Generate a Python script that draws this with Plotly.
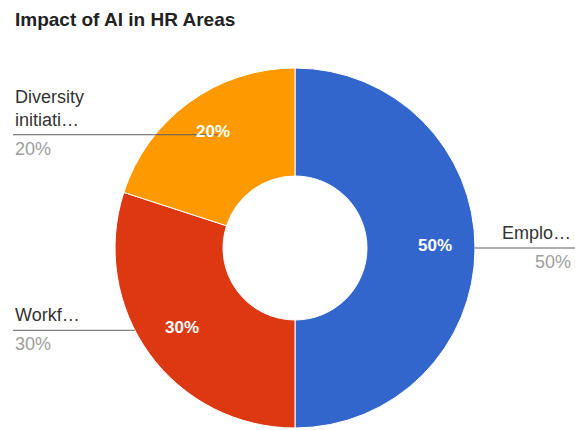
import math
import plotly.graph_objects as go

# Chart data
title = "Impact of AI in HR Areas"
labels = ["Emplo…", "Workf…", "Diversity<br>initiati…"]
values = [50, 30, 20]
colors = ["#3366cc", "#dc3912", "#ff9900"]

# Canvas geometry (pixels)
W, H = 575, 430
cx, cy = 295, 248          # donut centre
R = 180                    # outer radius
hole = 0.4                 # inner radius / outer radius
label_r = 140              # radius of the in-slice percentage labels
left_x = 13                # left edge of the left-hand labels
right_x = 573              # right edge of the right-hand labels


def px(x):
    return x / W


def py(y):
    return 1 - y / H


fig = go.Figure(
    go.Pie(
        labels=labels,
        values=values,
        hole=hole,
        sort=False,
        direction="clockwise",
        rotation=0,
        marker=dict(colors=colors, line=dict(color="white", width=1)),
        textinfo="none",
        showlegend=False,
        hoverinfo="label+value+percent",
        domain=dict(
            x=[px(cx - R), px(cx + R)],
            y=[py(cy + R), py(cy - R)],
        ),
    )
)

# Percentage labels inside slices, plus outside labels with leader lines,
# all placed at each slice's mid-angle
total = sum(values)
cum = 0
shapes = []
annotations = []
for lab, v in zip(labels, values):
    theta = 2 * math.pi * (cum + v / 2) / total
    cum += v
    lx = cx + label_r * math.sin(theta)
    ly = cy - label_r * math.cos(theta)
    pct = f"{round(100 * v / total)}%"
    edge = math.sqrt(max(R * R - (ly - cy) ** 2, 0))
    n_lines = lab.count("<br>") + 1
    if lx >= cx:
        x0, x1 = cx + edge, right_x + 2
        anchor, tx = "right", right_x
    else:
        x0 = left_x
        x1 = lx + 5 if n_lines > 1 else cx - edge
        anchor, tx = "left", left_x
    shapes.append(dict(
        type="line", xref="paper", yref="paper",
        x0=px(x0), x1=px(x1), y0=py(ly), y1=py(ly),
        line=dict(color="#5f5f5f", width=1), layer="above",
    ))
    annotations.append(dict(
        text=f"<b>{pct}</b>", x=px(lx), y=py(ly - 3), xref="paper", yref="paper",
        xanchor="center", yanchor="middle", showarrow=False,
        font=dict(family="Liberation Sans", size=17, color="white"),
    ))
    annotations.append(dict(
        text=lab, x=px(tx), y=py(ly - 3), xref="paper", yref="paper",
        xanchor=anchor, yanchor="bottom", showarrow=False, align=anchor,
        font=dict(family="Liberation Sans", size=18, color="#333333"),
    ))
    annotations.append(dict(
        text=pct, x=px(tx), y=py(ly + 2), xref="paper", yref="paper",
        xanchor=anchor, yanchor="top", showarrow=False, align=anchor,
        font=dict(family="Liberation Sans", size=18, color="#9e9e9e"),
    ))

annotations.append(dict(
    text=f"<b>{title}</b>", x=px(13), y=py(20), xref="paper", yref="paper",
    xanchor="left", yanchor="middle", showarrow=False,
    font=dict(family="Liberation Sans", size=19, color="#222222"),
))

fig.update_layout(
    width=W, height=H,
    margin=dict(l=0, r=0, t=0, b=0),
    paper_bgcolor="white", plot_bgcolor="white",
    shapes=shapes, annotations=annotations,
)

fig.write_html("out.html")
